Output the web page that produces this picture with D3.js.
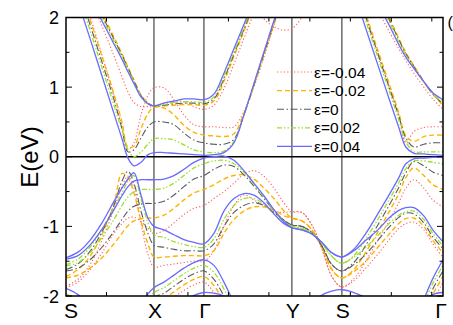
<!DOCTYPE html>
<html><head><meta charset="utf-8">
<script src="https://cdn.jsdelivr.net/npm/d3@7"></script>
<style>body{margin:0;background:#fff;} svg{display:block;font-family:Arial,"Liberation Sans",sans-serif;}</style>
</head><body><svg id="chart" width="453" height="325"></svg>
<script>
// k-path coordinate along S-X-Γ-Y-S-Γ
const kPath = [0, 0.12, 0.24, 0.36, 0.48, 0.56, 0.62, 0.68, 0.75, 0.82, 0.88,
  0.98, 1.08, 1.18, 1.28, 1.38,
  1.48, 1.58, 1.68, 1.78, 1.88, 1.98, 2.08, 2.17, 2.26,
  2.36, 2.46, 2.56, 2.66, 2.76,
  2.88, 3.0, 3.12, 3.24, 3.33, 3.40, 3.48, 3.58, 3.67, 3.772];
const symLabels = ["S", "X", "Γ", "Y", "S", "Γ"];
const symK = [0, 0.88, 1.38, 2.26, 2.76, 3.772];
const kTicks = [0.405, 0.81, 1.22, 1.625, 2.03, 2.44, 2.845, 3.255, 3.66];
const eTicks = [-2, -1, 0, 1, 2];
const eMinor = [-1.5, -0.5, 0.5, 1.5];
const strainLabels = ["ε=-0.04", "ε=-0.02", "ε=0", "ε=0.02", "ε=0.04"];

// band energies (eV) on kPath, one array per band
const bandsM004 = [
  [2.95, 2.7, 2.3, 1.88, 1.45, 1.15, 0.93, 0.78, 0.72, 0.72, 0.72, 0.77, 0.8, 0.79, 0.72, 0.68, 0.74, 0.98, 1.33, 1.7, 2.07, 2.45, 2.8, 3.0, 3.05, 3.05, 3.05, 3.05, 3.0, 2.95, 2.7, 2.4, 2.1, 1.78, 1.55, 1.38, 1.2, 1.0, 0.83, 0.68],
  [3.0, 2.55, 2.02, 1.46, 0.88, 0.45, 0.1, 0.2, 0.6, 0.88, 0.99, 0.99, 0.82, 0.6, 0.46, 0.43, 0.43, 0.42, 0.43, 0.65, 1.0, 1.43, 1.87, 2.25, 2.4, 2.5, 2.6, 2.7, 2.85, 3.0, 2.55, 2.03, 1.5, 0.98, 0.6, 0.2, 0.36, 0.42, 0.43, 0.43],
  [null, null, null, null, null, null, null, null, null, null, null, null, null, null, null, null, null, null, null, 2.6, 2.25, 1.98, 1.87, 1.82, 1.84, 2.0, 2.25, 2.5, null, null, null, null, null, null, null, null, null, null, null, null],
  [-1.88, -1.8, -1.62, -1.38, -1.1, -0.96, -0.88, -0.87, -0.93, -1.03, -1.1, -1.06, -0.95, -0.83, -0.74, -0.7, -0.6, -0.5, -0.38, -0.25, -0.2, -0.28, -0.45, -0.64, -0.79, -0.8, -0.98, -1.32, -1.72, -1.87, -1.75, -1.5, -1.2, -0.9, -0.66, -0.45, -0.33, -0.45, -0.62, -0.72],
  [-1.86, -1.76, -1.55, -1.2, -0.75, -0.42, -0.28, -0.45, -0.95, -1.4, -1.58, -1.56, -1.54, -1.52, -1.5, -1.5, -1.35, -1.0, -0.7, -0.55, -0.62, -0.7, -0.78, -0.8, -0.79, -0.8, -0.98, -1.32, -1.72, -1.87, -1.78, -1.6, -1.4, -1.18, -1.03, -0.96, -0.94, -1.05, -1.25, -1.45],
  [-2.2, -2.3, -2.45, -2.6, -2.7, -2.7, -2.7, -2.6, -2.45, -2.3, -2.2, -2.12, -2.02, -1.92, -1.84, -1.8, -1.95, -2.2, -2.5, -2.8, -2.9, -2.9, -2.9, -2.9, -2.9, -2.85, -2.6, -2.4, -2.3, -2.25, -2.3, -2.4, -2.55, -2.7, -2.8, -2.8, -2.65, -2.38, -2.08, -1.8]
];
const bandsM002 = [
  [3.0, 2.7, 2.39, 2.06, 1.72, 1.48, 1.29, 1.1, 0.89, 0.77, 0.73, 0.73, 0.74, 0.75, 0.75, 0.74, 0.8, 1.08, 1.44, 1.8, 2.17, 2.52, 2.85, 3.0, 3.05, 3.05, 3.05, 3.05, 3.0, 3.0, 2.92, 2.64, 2.32, 1.98, 1.7, 1.5, 1.31, 1.08, 0.9, 0.74],
  [2.95, 2.48, 1.97, 1.44, 0.9, 0.5, 0.14, 0.15, 0.4, 0.62, 0.71, 0.7, 0.6, 0.45, 0.35, 0.31, 0.3, 0.29, 0.33, 0.62, 1.02, 1.46, 1.9, 2.3, 2.45, 2.5, 2.55, 2.65, 2.75, 2.95, 2.55, 2.05, 1.53, 1.02, 0.63, 0.3, 0.22, 0.29, 0.31, 0.31],
  [-1.74, -1.7, -1.6, -1.45, -1.25, -1.1, -0.99, -0.92, -0.89, -0.88, -0.88, -0.84, -0.74, -0.62, -0.52, -0.47, -0.4, -0.32, -0.27, -0.26, -0.32, -0.45, -0.6, -0.76, -0.88, -0.92, -1.05, -1.3, -1.62, -1.74, -1.62, -1.37, -1.08, -0.77, -0.53, -0.3, -0.16, -0.27, -0.4, -0.47],
  [-1.72, -1.62, -1.43, -1.12, -0.68, -0.24, -0.3, -0.52, -0.92, -1.25, -1.44, -1.44, -1.43, -1.42, -1.42, -1.42, -1.35, -1.1, -0.9, -0.78, -0.72, -0.72, -0.76, -0.84, -0.88, -0.92, -1.05, -1.3, -1.62, -1.74, -1.65, -1.5, -1.3, -1.1, -0.96, -0.89, -0.88, -1.0, -1.2, -1.38],
  [-2.1, -2.2, -2.4, -2.5, -2.6, -2.6, -2.6, -2.5, -2.35, -2.2, -2.1, -2.04, -1.94, -1.84, -1.76, -1.72, -1.85, -2.1, -2.4, -2.7, -2.8, -2.8, -2.8, -2.8, -2.8, -2.75, -2.5, -2.3, -2.2, -2.15, -2.2, -2.3, -2.45, -2.6, -2.7, -2.7, -2.55, -2.28, -1.98, -1.72]
];
const bands0 = [
  [2.97, 2.68, 2.36, 2.03, 1.69, 1.46, 1.27, 1.09, 0.88, 0.77, 0.73, 0.74, 0.76, 0.77, 0.77, 0.76, 0.83, 1.12, 1.47, 1.83, 2.2, 2.55, 2.85, 3.0, 3.05, 3.05, 3.05, 3.05, 3.0, 3.0, 2.9, 2.62, 2.29, 1.95, 1.68, 1.48, 1.3, 1.08, 0.9, 0.76],
  [2.9, 2.42, 1.9, 1.36, 0.82, 0.4, 0.07, 0.1, 0.27, 0.43, 0.5, 0.5, 0.46, 0.34, 0.24, 0.2, 0.18, 0.18, 0.25, 0.6, 1.03, 1.48, 1.92, 2.3, 2.45, 2.5, 2.55, 2.6, 2.7, 2.85, 2.5, 2.0, 1.48, 0.97, 0.58, 0.27, 0.14, 0.18, 0.2, 0.2],
  [-1.64, -1.6, -1.48, -1.3, -1.07, -0.9, -0.78, -0.71, -0.68, -0.67, -0.67, -0.64, -0.55, -0.43, -0.32, -0.27, -0.18, -0.12, -0.14, -0.26, -0.42, -0.6, -0.77, -0.9, -0.98, -1.0, -1.09, -1.28, -1.55, -1.64, -1.52, -1.27, -0.98, -0.68, -0.44, -0.23, -0.07, -0.13, -0.22, -0.27],
  [-1.62, -1.54, -1.36, -1.08, -0.7, -0.35, -0.21, -0.38, -0.78, -1.1, -1.27, -1.3, -1.33, -1.35, -1.35, -1.35, -1.25, -1.0, -0.8, -0.7, -0.66, -0.7, -0.8, -0.9, -0.98, -1.0, -1.09, -1.28, -1.55, -1.64, -1.55, -1.4, -1.2, -1.0, -0.87, -0.81, -0.82, -0.95, -1.15, -1.32],
  [-2.05, -2.15, -2.3, -2.45, -2.6, -2.6, -2.55, -2.45, -2.3, -2.12, -2.02, -1.96, -1.86, -1.76, -1.68, -1.64, -1.76, -2.0, -2.3, -2.6, -2.8, -2.8, -2.8, -2.8, -2.8, -2.7, -2.4, -2.2, -2.1, -2.07, -2.1, -2.2, -2.38, -2.55, -2.65, -2.65, -2.5, -2.2, -1.9, -1.64]
];
const bandsP002 = [
  [2.95, 2.65, 2.33, 2.0, 1.66, 1.43, 1.25, 1.07, 0.87, 0.76, 0.73, 0.75, 0.78, 0.79, 0.79, 0.78, 0.86, 1.15, 1.5, 1.86, 2.22, 2.58, 2.85, 3.0, 3.05, 3.05, 3.05, 3.05, 3.0, 3.0, 2.88, 2.6, 2.26, 1.92, 1.65, 1.46, 1.28, 1.07, 0.9, 0.78],
  [2.85, 2.35, 1.82, 1.28, 0.74, 0.38, 0.1, 0.0, 0.07, 0.18, 0.26, 0.26, 0.24, 0.17, 0.1, 0.07, 0.06, 0.08, 0.22, 0.6, 1.04, 1.5, 1.94, 2.3, 2.45, 2.5, 2.55, 2.6, 2.7, 2.8, 2.45, 1.95, 1.43, 0.92, 0.53, 0.22, 0.07, 0.07, 0.07, 0.07],
  [-1.57, -1.52, -1.38, -1.16, -0.9, -0.7, -0.58, -0.5, -0.47, -0.47, -0.47, -0.45, -0.38, -0.27, -0.16, -0.1, -0.06, -0.05, -0.1, -0.22, -0.4, -0.58, -0.77, -0.92, -1.0, -1.03, -1.1, -1.24, -1.43, -1.53, -1.42, -1.18, -0.9, -0.6, -0.37, -0.17, -0.06, -0.06, -0.08, -0.1],
  [-1.55, -1.47, -1.3, -1.04, -0.73, -0.52, -0.35, -0.27, -0.6, -0.95, -1.12, -1.16, -1.22, -1.26, -1.29, -1.3, -1.18, -0.9, -0.7, -0.6, -0.6, -0.68, -0.82, -0.94, -1.0, -1.03, -1.1, -1.24, -1.43, -1.53, -1.44, -1.3, -1.13, -0.95, -0.84, -0.79, -0.78, -0.9, -1.1, -1.28],
  [-1.97, -2.06, -2.22, -2.4, -2.55, -2.55, -2.5, -2.4, -2.22, -2.05, -1.95, -1.88, -1.78, -1.68, -1.6, -1.56, -1.66, -1.9, -2.2, -2.5, -2.7, -2.75, -2.75, -2.75, -2.75, -2.6, -2.3, -2.1, -2.02, -1.99, -2.03, -2.12, -2.3, -2.5, -2.6, -2.6, -2.45, -2.12, -1.82, -1.56]
];
const bandsP004 = [
  [2.9, 2.6, 2.28, 1.95, 1.62, 1.4, 1.22, 1.05, 0.86, 0.76, 0.73, 0.77, 0.8, 0.83, 0.83, 0.82, 0.9, 1.2, 1.55, 1.9, 2.25, 2.6, 2.85, 3.0, 3.05, 3.05, 3.05, 3.05, 3.0, 3.0, 2.85, 2.55, 2.2, 1.87, 1.61, 1.43, 1.27, 1.08, 0.92, 0.82],
  [2.75, 2.23, 1.7, 1.16, 0.62, 0.26, -0.02, -0.13, -0.08, 0.03, 0.06, 0.06, 0.05, 0.04, 0.03, 0.02, 0.03, 0.06, 0.2, 0.6, 1.05, 1.5, 1.95, 2.3, 2.45, 2.5, 2.55, 2.6, 2.7, 2.75, 2.36, 1.84, 1.32, 0.8, 0.42, 0.14, 0.05, 0.04, 0.03, 0.02],
  [-1.47, -1.42, -1.27, -1.04, -0.76, -0.56, -0.43, -0.35, -0.33, -0.33, -0.33, -0.32, -0.27, -0.18, -0.08, -0.02, 0.0, 0.01, -0.05, -0.2, -0.38, -0.56, -0.76, -0.92, -1.02, -1.05, -1.11, -1.23, -1.38, -1.44, -1.33, -1.1, -0.82, -0.53, -0.3, -0.1, -0.03, -0.02, -0.01, -0.01],
  [-1.45, -1.37, -1.2, -0.95, -0.64, -0.45, -0.32, -0.23, -0.55, -0.88, -1.0, -1.05, -1.12, -1.19, -1.23, -1.25, -1.1, -0.78, -0.6, -0.53, -0.55, -0.66, -0.82, -0.95, -1.02, -1.05, -1.11, -1.23, -1.38, -1.44, -1.35, -1.2, -1.05, -0.87, -0.77, -0.73, -0.73, -0.85, -1.05, -1.22],
  [-1.89, -1.98, -2.15, -2.35, -2.5, -2.5, -2.45, -2.35, -2.15, -1.97, -1.88, -1.8, -1.7, -1.6, -1.52, -1.48, -1.56, -1.8, -2.1, -2.4, -2.6, -2.7, -2.7, -2.7, -2.7, -2.5, -2.17, -1.99, -1.93, -1.91, -1.95, -2.03, -2.2, -2.4, -2.5, -2.55, -2.4, -2.05, -1.75, -1.48],
  [null, null, null, null, null, null, null, null, null, null, null, -2.35, -2.2, -2.07, -1.99, -1.95, -1.96, -2.0, -2.1, -2.3, null, null, null, null, null, null, null, null, null, null, null, null, null, null, null, -2.5, -2.3, -2.1, -1.98, -1.95]
];

const strainBands = [bandsM004, bandsM002, bands0, bandsP002, bandsP004];
const strainColors = ["#ff5e5e", "#ffb300", "#5a5a5a", "#9ae02c", "#6a6aff"];
const strainDash = ["1.2,2.2", "5,3", "7,2.5,1.5,2.5", "5,2,1.5,2,1.5,2", null];
const strainWidth = [1.1, 1.4, 1.1, 1.3, 1.3];

const svg = d3.select("#chart");
const x = d3.scaleLinear().domain([0, 3.772]).range([66, 443]);
const y = d3.scaleLinear().domain([-2, 2]).range([296, 17.5]);

svg.append("defs").append("clipPath").attr("id", "plotClip")
  .append("rect").attr("x", x(0)).attr("y", y(2))
  .attr("width", x(3.772) - x(0)).attr("height", y(-2) - y(2));

// high-symmetry verticals
svg.append("g").selectAll("line").data(symK.slice(1, -1)).join("line")
  .attr("x1", d => x(d)).attr("x2", d => x(d))
  .attr("y1", y(2)).attr("y2", y(-2))
  .attr("stroke", "#555").attr("stroke-width", 1.3);

// Fermi level
svg.append("line").attr("x1", x(0)).attr("x2", x(3.772))
  .attr("y1", y(0)).attr("y2", y(0)).attr("stroke", "#000").attr("stroke-width", 1.4);

const line = d3.line()
  .defined(d => d[1] != null)
  .x(d => x(d[0])).y(d => y(d[1]))
  .curve(d3.curveCatmullRom.alpha(0.5));

const bandsG = svg.append("g").attr("clip-path", "url(#plotClip)");
strainBands.forEach((bands, i) => {
  bands.forEach(b => {
    bandsG.append("path")
      .attr("d", line(b.map((e, j) => [kPath[j], e])))
      .attr("fill", "none")
      .attr("stroke", strainColors[i])
      .attr("stroke-width", strainWidth[i])
      .attr("stroke-dasharray", strainDash[i]);
  });
});

// frame
svg.append("rect").attr("x", x(0)).attr("y", y(2))
  .attr("width", x(3.772) - x(0)).attr("height", y(-2) - y(2))
  .attr("fill", "none").attr("stroke", "#000").attr("stroke-width", 1.5);

// ticks
const tg = svg.append("g").attr("stroke", "#000").attr("stroke-width", 1);
kTicks.forEach(k => {
  tg.append("line").attr("x1", x(k)).attr("x2", x(k)).attr("y1", y(-2)).attr("y2", y(-2) - 4);
  tg.append("line").attr("x1", x(k)).attr("x2", x(k)).attr("y1", y(2)).attr("y2", y(2) + 4);
});
eTicks.concat(eMinor).forEach(e => {
  const len = eTicks.includes(e) ? 6 : 3.5;
  tg.append("line").attr("x1", x(0)).attr("x2", x(0) + len).attr("y1", y(e)).attr("y2", y(e));
  tg.append("line").attr("x1", x(3.772)).attr("x2", x(3.772) - len).attr("y1", y(e)).attr("y2", y(e));
});

// tick labels
svg.append("g").selectAll("text").data(eTicks).join("text")
  .attr("x", 59).attr("y", d => y(d) + 6.5)
  .attr("text-anchor", "end").attr("font-size", 18).text(d => d);

svg.append("g").selectAll("text").data(symLabels).join("text")
  .attr("x", (d, i) => x(symK[i]) + (i === 0 ? 5 : i === symLabels.length - 1 ? -2 : 1))
  .attr("y", 318).attr("text-anchor", "middle").attr("font-size", 21)
  .text(d => d);

svg.append("text").attr("transform", "translate(38,157) rotate(-90)")
  .attr("text-anchor", "middle").attr("font-size", 24).text("E(eV)");

// panel mark at the right edge
svg.append("text").attr("x", 447.5).attr("y", 28).attr("font-size", 16).text("(");

// legend
const lg = svg.append("g");
strainLabels.forEach((s, i) => {
  const yy = 72 + i * 18.6;
  lg.append("line").attr("x1", 277).attr("x2", 312).attr("y1", yy).attr("y2", yy)
    .attr("stroke", strainColors[i]).attr("stroke-width", strainWidth[i])
    .attr("stroke-dasharray", strainDash[i]);
  lg.append("text").attr("x", 314).attr("y", yy + 5.5).attr("font-size", 15.5).text(s);
});
</script></body></html>
